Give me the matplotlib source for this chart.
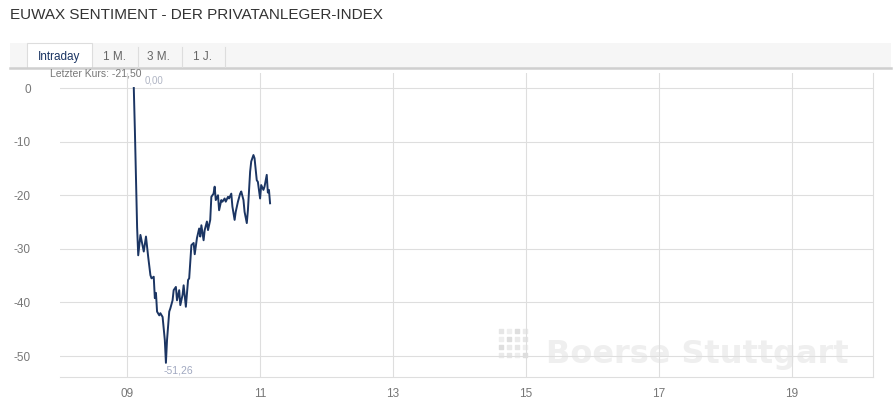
import numpy as np
import matplotlib
matplotlib.use("Agg")
from matplotlib import pyplot as plt
from matplotlib.patches import Rectangle
from matplotlib.lines import Line2D

plt.rcParams['font.family'] = ['Liberation Sans', 'DejaVu Sans']

# minutes after 09:00 and index value
minutes = [6, 7, 8, 9, 10, 12, 15, 17, 19, 21, 22, 24, 25, 26, 27, 29, 30, 32, 34, 35,
           36, 38, 39, 41, 42, 44, 45, 47, 48, 50, 51, 53, 55, 56, 58, 60, 61, 63, 65, 66,
           67, 69, 70, 72, 73, 75, 76, 78, 79, 80, 82, 83, 85, 86, 88, 89, 91, 92, 94, 95,
           97, 98, 100, 102, 103, 105, 106, 108, 109, 111, 112, 114, 115, 117, 118, 120, 121, 123, 124, 126,
           127, 128, 129]
values = [0.0, -8.0, -17.0, -26.0, -31.2, -27.4, -30.5, -27.7, -31.5, -34.9, -35.5, -35.2, -39.2, -38.2, -41.7, -42.4, -42.0, -42.7, -47.0, -51.26,
          -47.0, -41.7, -41.1, -39.6, -37.7, -37.1, -39.6, -37.7, -40.5, -38.6, -36.8, -40.8, -35.8, -35.5, -29.3, -28.9, -31.0, -28.0, -26.2, -27.7,
          -25.6, -28.4, -26.5, -24.9, -26.5, -24.6, -20.3, -19.7, -18.4, -20.9, -20.0, -22.8, -20.9, -21.2, -20.6, -21.2, -20.3, -20.6, -19.7, -22.1,
          -24.6, -23.1, -21.2, -19.7, -19.3, -20.9, -23.1, -25.2, -22.8, -15.6, -13.7, -12.5, -13.1, -17.2, -17.5, -20.6, -18.1, -19.0, -18.4, -16.2,
          -19.5, -19.0, -21.5]
xticks = [9, 11, 13, 15, 17, 19]
xticklabels = ["09", "11", "13", "15", "17", "19"]
yticks = [0, -10, -20, -30, -40, -50]
tabs = ["Intraday", "1 M.", "3 M.", "1 J."]

W, H = 895, 403
fig = plt.figure(figsize=(W / 100, H / 100), dpi=100)

def fx(x):
    return x / W

def fy(y):
    return 1 - y / H

ax = fig.add_axes([fx(60), fy(377), fx(873) - fx(60), fy(73) - fy(377)])

hours = 9 + np.array(minutes) / 60.0
ax.plot(hours, values, color="#1b3563", lw=1.4, zorder=3)

ax.set_xlim(7.99, 20.22)
ax.set_ylim(-53.9, 2.8)
ax.set_xticks(xticks)
ax.set_xticklabels(xticklabels)
ax.set_yticks(yticks)
ax.set_yticklabels([str(v) for v in yticks])
ax.tick_params(length=0, labelsize=8.5, labelcolor="#777777")
ax.tick_params(axis="y", pad=21)
ax.tick_params(axis="x", pad=8)
ax.grid(True, color="#dedede", lw=0.8)
ax.set_axisbelow(True)
for s in ["top", "left"]:
    ax.spines[s].set_visible(False)
ax.spines["right"].set_color("#dedede")
ax.spines["bottom"].set_color("#dedede")
ax.spines["right"].set_linewidth(0.8)
ax.spines["bottom"].set_linewidth(0.8)

# min / max labels
imax = int(np.argmax(values))
imin = int(np.argmin(values))
ax.annotate("0,00", (hours[imax], values[imax]), xytext=(8, 2), textcoords="offset points",
            fontsize=7, color="#b0b5c4", ha="left", va="bottom")
ax.annotate("-51,26", (hours[imin], values[imin]), xytext=(-2, -2), textcoords="offset points",
            fontsize=7.5, color="#a0a8c0", ha="left", va="top")

# watermark
ax.text(fx(697), fy(355), "Boerse Stuttgart", transform=fig.transFigure, fontsize=23,
        family="DejaVu Sans", fontweight="bold", color="#efefef", ha="center", va="center", zorder=0.1)
gx, gy = np.meshgrid(np.arange(4), np.arange(4))
shades = ["#e6e6e6", "#eeeeee", "#dedede", "#eaeaea"]
ax.scatter(fx(501 + gx.ravel() * 8), fy(331 + gy.ravel() * 8), transform=fig.transFigure,
           s=12, marker="s", c=[shades[(i + j) % 4] for i, j in zip(gx.ravel(), gy.ravel())],
           zorder=0.1, clip_on=False)

# title
fig.text(fx(10), fy(15), "EUWAX SENTIMENT - DER PRIVATANLEGER-INDEX", fontsize=11,
         color="#333333", ha="left", va="center")

# tab bar
fig.add_artist(Rectangle((fx(10), fy(68)), fx(891) - fx(10), fy(43) - fy(68),
                         transform=fig.transFigure, facecolor="#f6f6f6", edgecolor="none"))
fig.add_artist(Line2D([fx(10), fx(891)], [fy(68), fy(68)], transform=fig.transFigure,
                      color="#cfcfcf", lw=1.8))
fig.add_artist(Rectangle((fx(27), fy(68)), fx(92) - fx(27), fy(43) - fy(68),
                         transform=fig.transFigure, facecolor="white", edgecolor="#dddddd", lw=0.8))
tab_x = [59, 115, 158, 203]
for i, t in enumerate(tabs):
    fig.text(fx(tab_x[i]), fy(57), t, fontsize=8.5, color="#1b3563" if i == 0 else "#666666",
             ha="center", va="center")
for sx in [138, 182, 225]:
    fig.add_artist(Line2D([fx(sx), fx(sx)], [fy(47), fy(67)], transform=fig.transFigure,
                          color="#dddddd", lw=0.8))

fig.text(fx(50), fy(73), "Letzter Kurs: -21,50", fontsize=7.5, color="#777777",
         ha="left", va="center")

fig.savefig("out.png", dpi=100)
